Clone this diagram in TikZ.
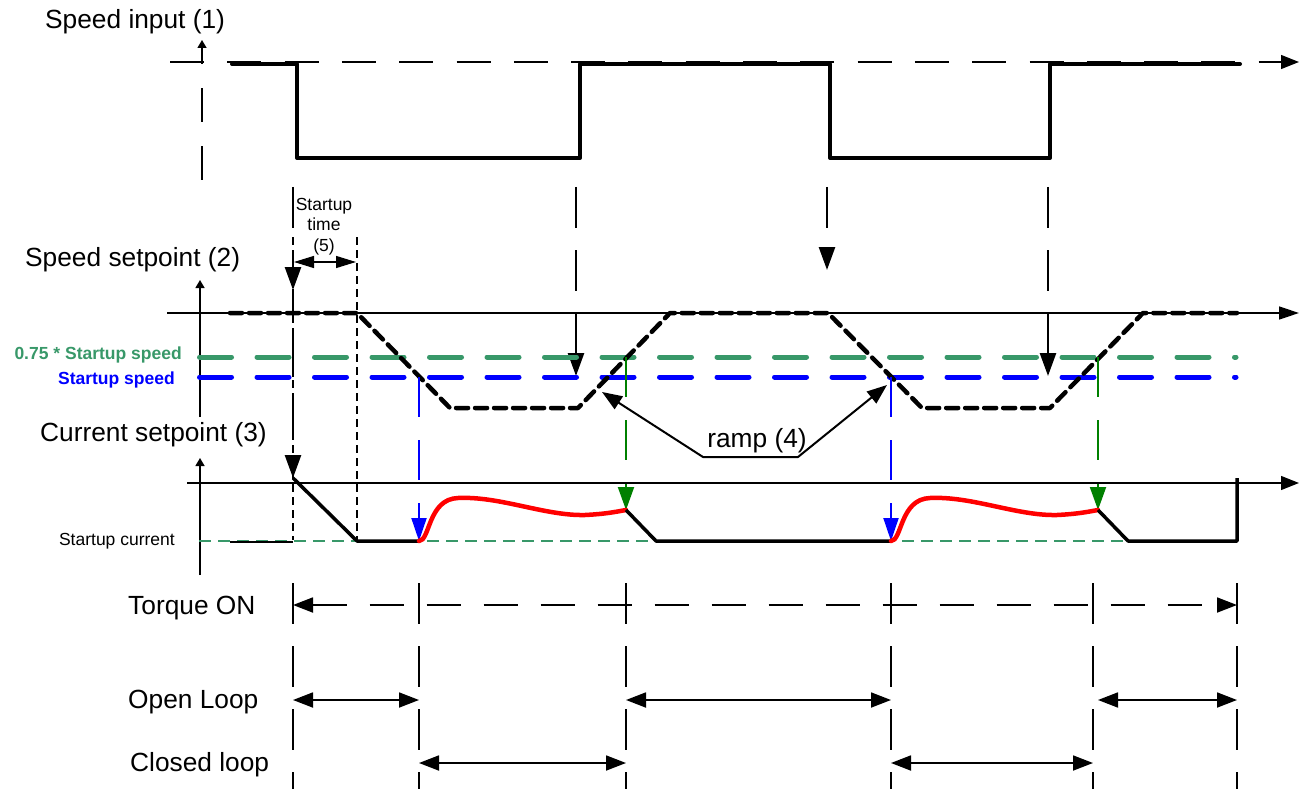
\documentclass[tikz,border=0pt]{standalone}
\usepackage{fontspec}
\setmainfont{Liberation Sans}
\usetikzlibrary{arrows.meta}
\definecolor{sgreen}{RGB}{56,152,105}
\definecolor{dgreen}{RGB}{0,128,0}
\definecolor{pblue}{RGB}{0,0,255}
\definecolor{pred}{RGB}{255,0,0}
\begin{document}
\begin{tikzpicture}[x=1pt,y=-1pt,
  lbl/.style={font=\fontsize{26.3}{30}\selectfont, inner sep=0pt},
  small/.style={font=\fontsize{17.5}{20.5}\selectfont, inner sep=0pt},
  smallb/.style={font=\bfseries\fontsize{17.5}{20.5}\selectfont, inner sep=0pt},
  sig/.style={line width=4pt, line cap=round, line join=round},
  setp/.style={line width=4.5pt, line cap=round, line join=round, dash pattern=on 12pt off 7pt},
  axisl/.style={line width=1.4pt},
  longdash/.style={line width=2.6pt, dash pattern=on 41pt off 22pt},
  thindash/.style={line width=1.3pt, dash pattern=on 8pt off 5pt},
  level/.style={line width=5pt, line cap=round, dash pattern=on 32pt off 25.5pt},
  cur/.style={line width=3.5pt, line join=round},
  redc/.style={pred, line width=4.5pt, line cap=round},
  bigtip/.tip={Triangle[length=23pt,width=16pt]},
  midtip/.tip={Triangle[length=20pt,width=15pt]},
  axtip/.tip={Triangle[length=18pt,width=14pt]},
  smtip/.tip={Triangle[length=8pt,width=9pt]}]
\useasboundingbox (0,0) rectangle (1299,789);

% ---------------- Speed input ----------------
\node[lbl, anchor=base west] (lin) at (45,29) {Speed input (1)};
\draw[axisl, dash pattern=on 34pt off 24pt, -smtip] (202,180) -- (202,40);
\draw[axisl, dash pattern=on 34pt off 23.3pt, -axtip] (170,62) -- (1299,62);
\draw[sig] (232,64) -- (297,64) -- (297,158) -- (580,158) -- (580,64) -- (830,64)
  -- (830,158) -- (1050,158) -- (1050,64) -- (1240,64);

% long dashed arrows from speed input edges
\draw[longdash, -bigtip] (293,187) -- (293,290);
\draw[longdash, dash phase=17pt, -bigtip] (293,290) -- (293,478);
\draw[longdash, -bigtip] (576,187) -- (576,376);
\draw[longdash, -bigtip] (827,187) -- (827,270);
\draw[longdash, -bigtip] (1048,187) -- (1048,376);

% startup time
\draw[thindash] (293,237) -- (293,540);
\draw[thindash] (357,237) -- (357,540);
\draw[line width=1.3pt, {Triangle[length=20pt,width=12pt]}-{Triangle[length=20pt,width=12pt]}] (294,262) -- (356,262);
\node[small, anchor=base] (st1) at (324,210) {Startup};
\node[small, anchor=base] (st2) at (324,230.5) {time};
\node[small, anchor=base] (st3) at (324,251) {(5)};

% ---------------- Speed setpoint ----------------
\node[lbl, anchor=base west] (lsp) at (25,266) {Speed setpoint (2)};
\draw[axisl, -smtip] (200,417) -- (200,280);
\draw[axisl, -{Triangle[length=20pt,width=13pt]}] (167,313) -- (1299,313);
\draw[level, sgreen] (199.5,357) -- (1236,357);
\draw[level, pblue] (199.5,377) -- (1236,377);
\node[smallb, text=sgreen, anchor=base east] (l075) at (182,359) {0.75 * Startup speed};
\node[smallb, text=pblue, anchor=base east] (lss) at (175,384) {Startup speed};

\draw[setp] (230,313) -- (357,313) -- (450,408) -- (578,408) -- (670,313) -- (828,313)
  -- (922,408) -- (1050,408) -- (1143,313) -- (1237,313);

% blue and green transfer arrows
\draw[pblue, line width=2pt, dash pattern=on 40pt off 23pt, -{Triangle[length=23pt,width=15pt]}] (419,377) -- (419,541);
\draw[pblue, line width=2pt, dash pattern=on 40pt off 23pt, -{Triangle[length=23pt,width=15pt]}] (891,377) -- (891,541);
\draw[dgreen, line width=2pt, dash pattern=on 40pt off 23pt, -{Triangle[length=23pt,width=16pt]}] (626,357) -- (626,510);
\draw[dgreen, line width=2pt, dash pattern=on 40pt off 23pt, -{Triangle[length=23pt,width=16pt]}] (1098,357) -- (1098,510);

% ramp label
\node[lbl, anchor=base] (ramp) at (757,447) {ramp (4)};
\draw[line width=2pt, line join=round, midtip-midtip] (602,392) -- (703,457) -- (798,457) -- (887,385);

% ---------------- Current setpoint ----------------
\node[lbl, anchor=base west] (lcs) at (40,441) {Current setpoint (3)};
\draw[axisl, -smtip] (200,575) -- (200,458);
\draw[axisl, -axtip] (187,483) -- (1299,483);
\node[small, anchor=base east] (lsc) at (175,545) {Startup current};
\draw[sgreen, line width=1.3pt, dash pattern=on 12pt off 7pt] (199,541) -- (1237,541);
\draw[line width=2pt] (230,542) -- (293,542);
\draw[cur] (293,478) -- (357,541) -- (419,541);
\draw[redc] (419,541) .. controls (430,541) and (428,499) .. (458,498)
  .. controls (500,496) and (545,516) .. (585,515)
  .. controls (605,514) and (615,512) .. (626,510);
\draw[cur] (626,510) -- (656,541) -- (891,541);
\draw[redc] (891,541) .. controls (902,541) and (900,499) .. (930,498)
  .. controls (972,496) and (1017,516) .. (1057,515)
  .. controls (1077,514) and (1087,512) .. (1098,510);
\draw[cur] (1098,510) -- (1128,541) -- (1237,541) -- (1237,478);

% ---------------- Bottom phases ----------------
\node[lbl, anchor=base west] (ltq) at (128,614) {Torque ON};
\node[lbl, anchor=base west] (lol) at (128,708) {Open Loop};
\node[lbl, anchor=base west] (lcl) at (130,771) {Closed loop};

\foreach \xx in {293,419,626,891,1093,1237}
  \draw[longdash] (\xx,583) -- (\xx,789);

\draw[line width=1.8pt, dash pattern=on 34pt off 23pt, midtip-midtip] (293,605) -- (1237,605);

\draw[line width=1.8pt, midtip-midtip] (293,700) -- (419,700);
\draw[line width=1.8pt, midtip-midtip] (626,700) -- (891,700);
\draw[line width=1.8pt, midtip-midtip] (1098,700) -- (1237,700);
\draw[line width=1.8pt, midtip-midtip] (419,763) -- (626,763);
\draw[line width=1.8pt, midtip-midtip] (891,763) -- (1093,763);
\end{tikzpicture}
\end{document}
